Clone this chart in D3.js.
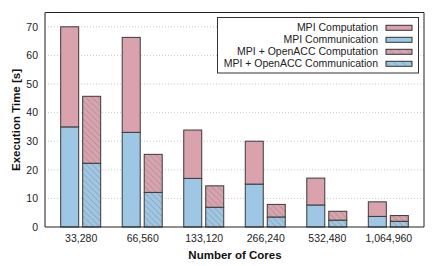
<!DOCTYPE html>
<html><head><meta charset="utf-8">
<script src="https://cdn.jsdelivr.net/npm/d3@7/dist/d3.min.js"></script>
<style>html,body{margin:0;padding:0;background:#fff;}svg{display:block;font-family:"Liberation Sans",Arial,sans-serif;}</style>
</head><body>
<script>
const categories = ["33,280","66,560","133,120","266,240","532,480","1,064,960"];
const mpiComm = [35, 33.1, 17, 15, 7.7, 3.7];
const mpiComp = [35, 33.2, 16.9, 15, 9.4, 5.1];
const accComm = [22.3, 12.1, 6.9, 3.5, 2.4, 2.0];
const accComp = [23.4, 13.3, 7.5, 4.4, 3.1, 2.0];
const yTicks = [0,10,20,30,40,50,60,70];
const legendLabels = ["MPI Computation","MPI Communication","MPI + OpenACC Computation","MPI + OpenACC Communication"];

const W = 443, H = 266;
const m = {left:45, right:19, top:12.5, bottom:39};
const pink = "#d9a2ad", blue = "#9dc7e5";

const svg = d3.select("body").append("svg").attr("width",W).attr("height",H);
const defs = svg.append("defs");
function hatch(id, fill, size){
  const p = defs.append("pattern").attr("id",id).attr("patternUnits","userSpaceOnUse")
    .attr("width",size).attr("height",size).attr("patternTransform","rotate(-45)");
  p.append("rect").attr("width",size).attr("height",size).attr("fill",fill);
  p.append("line").attr("x1",0).attr("y1",0).attr("x2",0).attr("y2",size)
    .attr("stroke","#8a8a8a").attr("stroke-width",0.9);
}
hatch("hp", pink, 4.3); hatch("hb", blue, 4.3);
hatch("lhp", pink, 6); hatch("lhb", blue, 6);

const x = d3.scalePoint().domain(categories).range([m.left, W-m.right]).padding(0.58);
const y = d3.scaleLinear().domain([0,75]).range([H-m.bottom, m.top]);

const g = svg.append("g");
g.selectAll(".grid").data(yTicks.filter(d=>d>0)).enter().append("line")
  .attr("x1",m.left).attr("x2",W-m.right).attr("y1",d=>y(d)).attr("y2",d=>y(d))
  .attr("stroke","#bbb").attr("stroke-width",0.8).attr("stroke-dasharray","1,2");

const bw = 18, gap = 2;
const series = [
  {vals:mpiComm, base:null, fill:blue, off:-gap-bw},
  {vals:mpiComp, base:mpiComm, fill:pink, off:-gap-bw},
  {vals:accComm, base:null, fill:"url(#hb)", off:gap},
  {vals:accComp, base:accComm, fill:"url(#hp)", off:gap}
];
series.forEach(s=>{
  g.selectAll(null).data(categories).enter().append("rect")
    .attr("x",c=>x(c)+s.off)
    .attr("width",bw)
    .attr("y",(c,i)=>y((s.base?s.base[i]:0)+s.vals[i]))
    .attr("height",(c,i)=>y(s.base?s.base[i]:0)-y((s.base?s.base[i]:0)+s.vals[i]))
    .attr("fill",s.fill).attr("stroke","#3a3a3a").attr("stroke-width",1);
});

svg.append("line").attr("x1",m.left).attr("x2",W-m.right).attr("y1",m.top).attr("y2",m.top).attr("stroke","#222").attr("stroke-width",1);
svg.append("line").attr("x1",W-m.right).attr("x2",W-m.right).attr("y1",m.top).attr("y2",H-m.bottom).attr("stroke","#222").attr("stroke-width",1);

const ya = svg.append("g").attr("transform",`translate(${m.left},0)`)
  .call(d3.axisLeft(y).tickValues(yTicks).tickSize(0).tickPadding(7));
ya.select(".domain").attr("stroke","#666").attr("stroke-width",1.5).attr("d",`M0,${m.top}V${H-m.bottom}`);
ya.selectAll("text").attr("font-size","10.5px").attr("fill","#222").attr("font-family","Liberation Sans, Arial, sans-serif");

const xa = svg.append("g").attr("transform",`translate(0,${H-m.bottom})`)
  .call(d3.axisBottom(x).tickSize(0).tickPadding(8));
xa.select(".domain").attr("stroke","#222").attr("stroke-width",1.2).attr("d",`M${m.left},0H${W-m.right}`);
xa.selectAll("text").attr("font-size","10.5px").attr("fill","#222").attr("font-family","Liberation Sans, Arial, sans-serif");

svg.append("text").attr("x",235).attr("y",259).attr("text-anchor","middle")
  .attr("font-weight","bold").attr("font-size","11.5px").attr("fill","#111").text("Number of Cores");
svg.append("text").attr("transform","translate(20,120) rotate(-90)").attr("text-anchor","middle")
  .attr("font-weight","bold").attr("font-size","11.5px").attr("fill","#111").text("Execution Time [s]");

const lg = svg.append("g");
lg.append("rect").attr("x",217.5).attr("y",17.5).attr("width",201).attr("height",55.5)
  .attr("fill","#fff").attr("stroke","#333").attr("stroke-width",1);
const lfills = [pink, blue, "url(#lhp)", "url(#lhb)"];
legendLabels.forEach((t,i)=>{
  const yy = 27.8 + i*12;
  lg.append("text").attr("x",378).attr("y",yy).attr("dy","0.35em").attr("text-anchor","end")
    .attr("font-size","10.5px").attr("fill","#222").text(t);
  lg.append("rect").attr("x",386).attr("y",yy-2.5).attr("width",26).attr("height",5)
    .attr("fill",lfills[i]).attr("stroke","#333").attr("stroke-width",1);
});
</script>
</body></html>
